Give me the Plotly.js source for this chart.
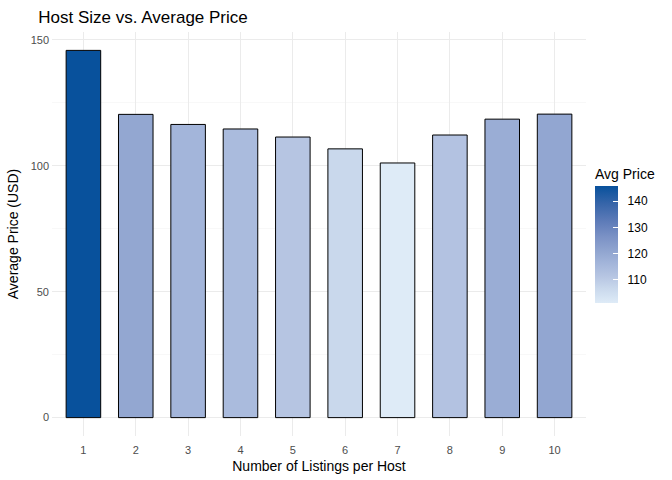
<!DOCTYPE html>
<html>
<head>
<meta charset="utf-8">
<script src="https://cdn.plot.ly/plotly-3.0.1.min.js"></script>
<style>body{margin:0;padding:0;background:#fff;}#chart{width:672px;height:480px;}</style>
</head>
<body>
<div id="chart"></div>
<script>
var listings = [1, 2, 3, 4, 5, 6, 7, 8, 9, 10];
var avgPrice = [145.8, 120.4, 116.4, 114.6, 111.4, 106.7, 101.1, 112.2, 118.5, 120.5];
var tickLabels = ["1", "2", "3", "4", "5", "6", "7", "8", "9", "10"];
var scaleTicks = [110, 120, 130, 140];

var cmin = Math.min.apply(null, avgPrice);
var cmax = Math.max.apply(null, avgPrice);

var colorscale = [
  [0, "#deebf7"],
  [0.125, "#c9d8ec"],
  [0.23, "#b6c5e2"],
  [0.34, "#a3b5da"],
  [0.43, "#93a7d1"],
  [0.57, "#7a91c5"],
  [0.7, "#5d7bb8"],
  [0.85, "#3665a9"],
  [1, "#08519c"]
];

var trace = {
  type: "bar",
  x: listings,
  y: avgPrice,
  width: 0.66,
  marker: {
    color: avgPrice,
    colorscale: colorscale,
    cmin: cmin,
    cmax: cmax,
    line: {color: "#000000", width: 1},
    showscale: true,
    colorbar: {
      title: {text: "Avg Price", side: "top", font: {size: 14, color: "#000"}},
      thickness: 23,
      thicknessmode: "pixels",
      len: 138,
      lenmode: "pixels",
      x: 1.0169,
      xanchor: "left",
      xpad: 0,
      y: 0.5,
      yanchor: "middle",
      ypad: 0,
      outlinewidth: 0,
      ticks: "inside",
      ticklen: 5,
      tickcolor: "#ffffff",
      tickvals: scaleTicks,
      ticktext: scaleTicks.map(function (v) { return "\u00a0\u00a0" + v; }),
      tickfont: {size: 12, color: "#000"}
    }
  },
  hoverinfo: "x+y"
};

var layout = {
  width: 672,
  height: 480,
  margin: {l: 52, r: 86, t: 32, b: 44, autoexpand: false},
  paper_bgcolor: "#ffffff",
  plot_bgcolor: "#ffffff",
  font: {family: "Liberation Sans, Arial, sans-serif", color: "#000"},
  title: {text: "Host Size vs. Average Price", x: 0.057, xanchor: "left", y: 0.965, yanchor: "middle", font: {size: 17, color: "#000"}},
  showlegend: false,
  xaxis: {
    range: [0.4, 10.6],
    tickvals: listings,
    ticktext: tickLabels,
    showgrid: true,
    gridcolor: "#ebebeb",
    gridwidth: 1,
    zeroline: false,
    showline: false,
    ticks: "",
    ticklabelstandoff: 6,
    tickfont: {size: 11, color: "#4d4d4d"},
    title: {text: "Number of Listings per Host", font: {size: 14, color: "#000"}, standoff: 6}
  },
  yaxis: {
    range: [-7.3, 153.1],
    tickvals: [0, 50, 100, 150],
    showgrid: true,
    gridcolor: "#ebebeb",
    gridwidth: 1,
    minor: {dtick: 25, tick0: 0, showgrid: true, gridcolor: "#f3f3f3", gridwidth: 0.6},
    zeroline: false,
    showline: false,
    ticks: "",
    ticklabelstandoff: 2,
    tickfont: {size: 11, color: "#4d4d4d"},
    title: {text: "Average Price (USD)", font: {size: 14, color: "#000"}, standoff: 8}
  },
  bargap: 0.34
};

Plotly.newPlot("chart", [trace], layout, {displayModeBar: false, staticPlot: true});
</script>
</body>
</html>
